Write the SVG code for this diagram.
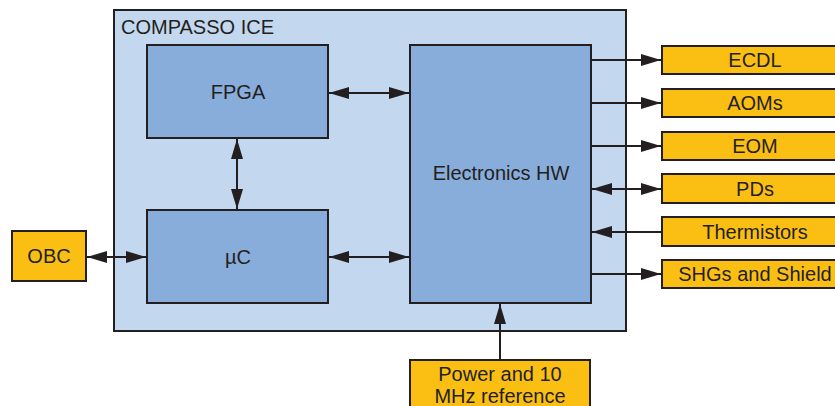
<svg xmlns="http://www.w3.org/2000/svg" width="835" height="406" viewBox="0 0 835 406">
<defs>
<marker id="ah" viewBox="0 0 20 12" refX="20" refY="6" markerWidth="20" markerHeight="12" markerUnits="userSpaceOnUse" orient="auto-start-reverse">
<path d="M0,0 L20,6 L0,12 Z" fill="#231F20"/>
</marker>
</defs>
<style>
.box{stroke:#231F20;stroke-width:2}
.cont{fill:#C3D7EE}
.blue{fill:#89ADDB}
.org{fill:#FBBF14}
text{font-family:"Liberation Sans",Arial,sans-serif;fill:#231F20;text-anchor:middle}
.t{font-size:20px}
.c{stroke:#231F20;stroke-width:2;fill:none}
</style>
<rect width="835" height="406" fill="#fff"/>
<g id="compasso">
<rect class="box cont" x="114" y="10" width="512" height="321"/>
<text x="121" y="34" style="font-size:20px;text-anchor:start">COMPASSO ICE</text>
</g>
<g id="fpga"><rect class="box blue" x="147" y="45" width="181" height="93"/><text class="t" x="238" y="99">FPGA</text></g>
<g id="uc"><rect class="box blue" x="147" y="210" width="181" height="93"/><text class="t" x="238" y="264">µC</text></g>
<g id="ehw"><rect class="box blue" x="410" y="45" width="181" height="258"/><text class="t" x="501" y="180">Electronics HW</text></g>
<g id="obc"><rect class="box org" x="12" y="231" width="74" height="50"/><text class="t" x="49" y="263">OBC</text></g>
<g id="power"><rect class="box org" x="410" y="360" width="180" height="60"/><text class="t" x="500" y="381">Power and 10</text><text class="t" x="500" y="403">MHz reference</text></g>
<g id="ecdl"><rect class="box org" x="662" y="46" width="190" height="28"/><text class="t" x="755" y="67">ECDL</text></g>
<g id="aoms"><rect class="box org" x="662" y="89" width="190" height="28"/><text class="t" x="755" y="110">AOMs</text></g>
<g id="eom"><rect class="box org" x="662" y="132" width="190" height="28"/><text class="t" x="755" y="153">EOM</text></g>
<g id="pds"><rect class="box org" x="662" y="174" width="190" height="29"/><text class="t" x="755" y="196">PDs</text></g>
<g id="therm"><rect class="box org" x="662" y="217" width="190" height="29"/><text class="t" x="755" y="239">Thermistors</text></g>
<g id="shgs"><rect class="box org" x="662" y="260" width="190" height="28"/><text class="t" x="755" y="281">SHGs and Shield</text></g>
<g id="connectors">
<line class="c" x1="329" y1="93" x2="409" y2="93" marker-start="url(#ah)" marker-end="url(#ah)"/>
<line class="c" x1="329" y1="257" x2="409" y2="257" marker-start="url(#ah)" marker-end="url(#ah)"/>
<line class="c" x1="87" y1="257" x2="146" y2="257" marker-start="url(#ah)" marker-end="url(#ah)"/>
<line class="c" x1="237" y1="139" x2="237" y2="209" marker-start="url(#ah)" marker-end="url(#ah)"/>
<line class="c" x1="500" y1="360" x2="500" y2="304" marker-end="url(#ah)"/>
<line class="c" x1="591" y1="60" x2="661" y2="60" marker-end="url(#ah)"/>
<line class="c" x1="591" y1="103" x2="661" y2="103" marker-end="url(#ah)"/>
<line class="c" x1="591" y1="146" x2="661" y2="146" marker-end="url(#ah)"/>
<line class="c" x1="592" y1="189" x2="661" y2="189" marker-start="url(#ah)" marker-end="url(#ah)"/>
<line class="c" x1="662" y1="232" x2="592" y2="232" marker-end="url(#ah)"/>
<line class="c" x1="591" y1="274" x2="661" y2="274" marker-end="url(#ah)"/>
</g>
</svg>
